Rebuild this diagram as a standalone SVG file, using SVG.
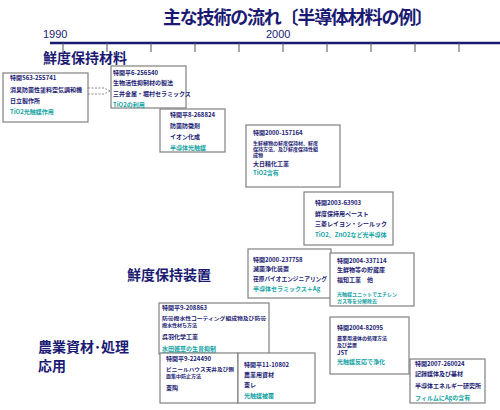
<svg xmlns="http://www.w3.org/2000/svg" width="500" height="410" viewBox="0 0 500 410">
<style>
.t{font-family:"Noto Sans CJK JP","Liberation Sans",sans-serif;fill:#1a1a73;font-weight:bold}
.n{font-family:"Noto Sans CJK JP","Liberation Sans",sans-serif;font-size:6px;font-weight:bold;fill:#1a1a73}
.g{font-family:"Noto Sans CJK JP","Liberation Sans",sans-serif;font-size:6px;font-weight:bold;fill:#12a3a3}
.s{font-size:5px}
.box{fill:#fff;stroke:#808080;stroke-width:1.2}
.tk{stroke:#505060;stroke-width:1}
</style>
<rect width="500" height="410" fill="#fff"/>
<text class="t" x="163" y="24" font-size="18" textLength="270">主な技術の流れ〔半導体材料の例〕</text>
<text x="43" y="38" font-family="Liberation Sans,sans-serif" font-size="11" fill="#1a1a73">1990</text>
<text x="266" y="38" font-family="Liberation Sans,sans-serif" font-size="11" fill="#1a1a73">2000</text>
<g id="axis">
<line x1="50" y1="43" x2="500" y2="43" stroke="#1a1a73" stroke-width="2.5"/>
<line class="tk" x1="63" y1="43" x2="63" y2="52"/>
<line class="tk" x1="107" y1="43" x2="107" y2="52"/>
<line class="tk" x1="151" y1="43" x2="151" y2="52"/>
<line class="tk" x1="195" y1="43" x2="195" y2="52"/>
<line class="tk" x1="239" y1="43" x2="239" y2="52"/>
<line class="tk" x1="283" y1="43" x2="283" y2="52"/>
<line class="tk" x1="327" y1="43" x2="327" y2="52"/>
<line class="tk" x1="371" y1="43" x2="371" y2="52"/>
<line class="tk" x1="415" y1="43" x2="415" y2="52"/>
<line class="tk" x1="459" y1="43" x2="459" y2="52"/>
</g>
<text class="t" x="43" y="63" font-size="14">鮮度保持材料</text>
<text class="t" x="127" y="280" font-size="14">鮮度保持装置</text>
<text class="t" x="38" y="352" font-size="14">農業資材･処理</text>
<text class="t" x="38" y="371" font-size="14">応用</text>

<g id="connectors" fill="none" stroke="#707070" stroke-width="0.8" stroke-dasharray="2,1.5">
<path d="M88,88 H104 L110,91"/>
<path d="M88,94 H104 L110,91"/>
</g>

<g id="b1">
<rect class="box" x="3" y="73" width="85" height="49"/>
<text class="n" x="10" y="80">特開S63-255741</text>
<text class="n" x="10" y="92">消臭防菌性塗料空気調和機</text>
<text class="n" x="10" y="103">日立製作所</text>
<text class="g" x="10" y="114">TiO2光触媒作用</text>
</g>
<g id="b2">
<rect class="box" x="111" y="66" width="75" height="42"/>
<text class="n" x="113" y="75">特開平6-256540</text>
<text class="n" x="113" y="85">生物活性抑制材の製法</text>
<text class="n" x="113" y="96">三井金属・堀村セラミックス</text>
<text class="g" x="113" y="107">TiO2の利用</text>
</g>
<g id="b3">
<rect class="box" x="160" y="109" width="65" height="43"/>
<text class="n" x="170" y="117">特開平8-268824</text>
<text class="n" x="170" y="128">防菌防黴剤</text>
<text class="n" x="170" y="139">イオン化成</text>
<text class="g" x="170" y="150">半導体光触媒</text>
</g>
<g id="b4">
<rect class="box" x="246" y="125" width="94" height="62"/>
<text class="n" x="253" y="135">特開2000-157164</text>
<text class="n s" x="253" y="145">生鮮植物の鮮度保持材、鮮度</text>
<text class="n s" x="253" y="151">保持方法、及び鮮度保持性組</text>
<text class="n s" x="253" y="157">成物</text>
<text class="n" x="253" y="166">大日精化工業</text>
<text class="g" x="253" y="175">TiO2含有</text>
</g>
<g id="b5">
<rect class="box" x="304" y="192" width="89" height="53"/>
<text class="n" x="315" y="205">特開2003-63903</text>
<text class="n" x="315" y="216">鮮度保持用ペースト</text>
<text class="n" x="315" y="226">三菱レイヨン・シールック</text>
<text class="g" x="315" y="237">TiO2、ZnO2など光半導体</text>
</g>
<g id="b6">
<rect class="box" x="248" y="249" width="83" height="49"/>
<text class="n" x="253" y="262">特開2000-237758</text>
<text class="n" x="253" y="271">滅菌浄化装置</text>
<text class="n" x="253" y="281" textLength="74" lengthAdjust="spacingAndGlyphs">荏原バイオエンジニアリング</text>
<text class="g" x="253" y="291">半導体セラミックス＋Ag</text>
</g>
<g id="b7">
<rect class="box" x="330" y="253" width="84" height="53"/>
<text class="n" x="337" y="263">特開2004-337114</text>
<text class="n" x="337" y="272">生鮮物等の貯蔵庫</text>
<text class="n" x="337" y="282">福知工業　他</text>
<text class="g s" x="337" y="296">光触媒ユニットでエチレン</text>
<text class="g s" x="337" y="303">ガス等を分解除去</text>
</g>
<g id="b8">
<rect class="box" x="159" y="303" width="110" height="51"/>
<text class="n" x="162" y="310">特開平9-208863</text>
<text class="n s" x="162" y="320" textLength="104" lengthAdjust="spacingAndGlyphs">防曇撥水性コーティング組成物及び防曇</text>
<text class="n s" x="162" y="327">撥水性材ち方法</text>
<text class="n" x="162" y="339">呉羽化学工業</text>
<text class="g" x="162" y="351" text-decoration="underline">水田雑草の生育抑制</text>
</g>
<g id="b9">
<rect class="box" x="160" y="353" width="78" height="50"/>
<text class="n" x="166" y="361">特開平9-224490</text>
<text class="n s" x="166" y="371" textLength="68" lengthAdjust="spacingAndGlyphs">ビニールハウス天井及び側</text>
<text class="n s" x="166" y="378">面集中防止方法</text>
<text class="n" x="166" y="390">東陶</text>
</g>
<g id="b10">
<rect class="box" x="238" y="353" width="77" height="50"/>
<text class="n" x="244" y="367">特開平11-10802</text>
<text class="n" x="244" y="377">農業用資材</text>
<text class="n" x="244" y="387">東レ</text>
<text class="g" x="244" y="398">光触媒被覆</text>
</g>
<g id="b11">
<rect class="box" x="330" y="317" width="79" height="57"/>
<text class="n" x="337" y="330">特開2004-82095</text>
<text class="n s" x="337" y="340">農業用液体の処理方法</text>
<text class="n s" x="337" y="347">及び装置</text>
<text class="n" x="337" y="355">JST</text>
<text class="g" x="337" y="364">光触媒反応で浄化</text>
</g>
<g id="b12">
<rect class="box" x="410" y="359" width="75" height="44"/>
<text class="n" x="415" y="366">特開2007-260024</text>
<text class="n" x="415" y="376">記録媒体及び基材</text>
<text class="n" x="415" y="388">半導体エネルギー研究所</text>
<text class="g" x="415" y="400">フィルムにAgの含有</text>
</g>
</svg>
